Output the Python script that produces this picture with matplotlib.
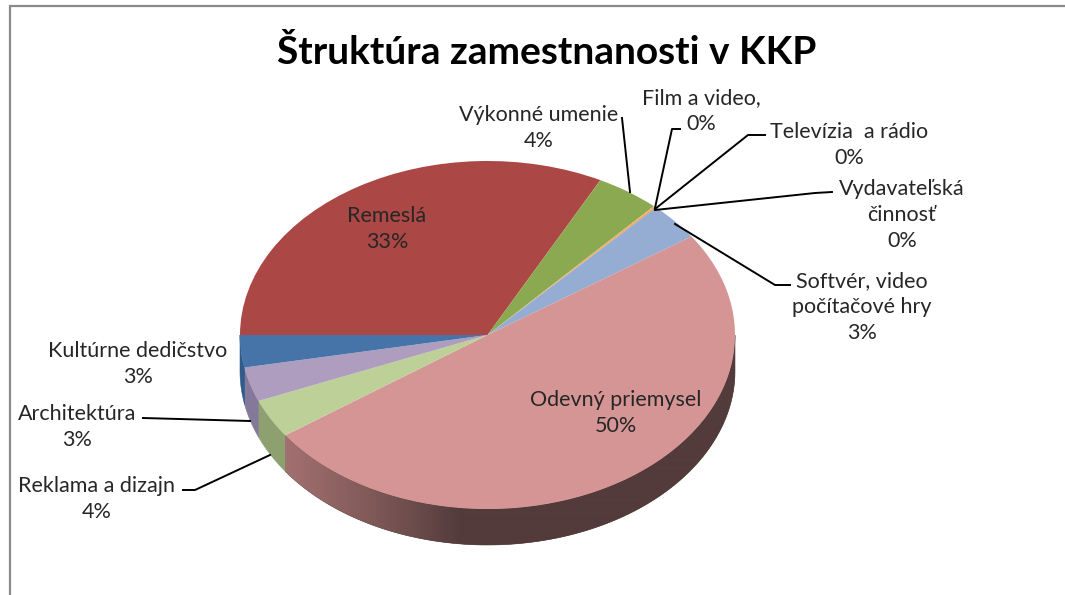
import numpy as np
import matplotlib
matplotlib.use("Agg")
import matplotlib.pyplot as plt

plt.rcParams['font.family'] = ['Lato', 'DejaVu Sans']

# clockwise from 9 o'clock
categories = ['Remeslá', 'Výkonné umenie', 'Film a video,', 'Televízia  a rádio',
              'Vydavateľská\nčinnosť', 'Softvér, video\npočítačové hry', 'Odevný priemysel',
              'Reklama a dizajn', 'Architektúra', 'Kultúrne dedičstvo']
values = [32.6, 4.2, 0.05, 0.05, 0.1, 3.5, 49.9, 3.6, 3.2, 3.0]
pct_labels = ['33%', '4%', '0%', '0%', '0%', '3%', '50%', '4%', '3%', '3%']
colors = ['#AB4744', '#8BA950', '#E8A04C', '#E8A04C', '#E8A04C', '#95ADD3', '#D69595',
          '#BCD098', '#AE9DBE', '#4674A8']
wall_colors = ['#6E2C2A', '#5A6E32', '#A06A30', '#A06A30', '#A06A30', '#5F7396', '#533B3B',
               '#8E9F70', '#84799A', '#2F5A8A']

# label block centres, pixels
label_x = [387, 539, 701, 849, 902, 862, 616, 97, 77, 138]
label_y = [229, 128, 111, 145, 215, 307, 413, 499, 427, 364]

# leader lines, pixels
leaders = {
    'Výkonné umenie': ([622, 630], [118, 192]),
    'Film a video,': ([680, 672, 655], [129, 129, 208]),
    'Televízia': ([765, 748, 655], [135, 135, 209]),
    'Vydavateľská': ([832, 815, 655], [192, 193, 210]),
    'Softvér': ([675, 775, 790], [224, 285, 285]),
    'Architektúra': ([143, 250], [418, 421]),
    'Reklama': ([183, 195, 270], [490, 490, 455]),
}

W, H = 1065, 595
cx, cy, rx, ry, depth = 487.5, 335, 247.5, 174, 36

fig = plt.figure(figsize=(W / 100, H / 100), dpi=100, facecolor='white')

# pie: one data unit is one radius, axes not equal so the disc is squashed
ax = fig.add_axes([0, 0, 1, 1])
wedges, _ = ax.pie(values, colors=colors, startangle=180, counterclock=False,
                   wedgeprops={'linewidth': 0}, radius=1)
xlim = (-cx / rx, (W - cx) / rx)
ylim = ((cy - H) / ry, cy / ry)
d = depth / ry


def wall(t, color):
    xs = np.cos(t)
    ys = np.sin(t)
    return ax.fill(np.r_[xs, xs[::-1]], np.r_[ys, ys[::-1] - d], color=color, lw=0.4, zorder=0)[0]


for w, c, name in zip(wedges, wall_colors, categories):
    # only the part of the rim on the lower half shows
    t = np.radians(np.arange(w.theta1, w.theta2 + 0.25, 0.25))
    t = t[np.sin(t) <= 0]
    if len(t) < 2:
        continue
    poly = wall(t, c)
    if name == 'Odevný priemysel':
        # shaded from left to right, image clipped to the rim
        px = np.arange(270, 740)
        shade = np.interp(px, [285, 345, 400, 460, 735], [0, 0.3, 0.6, 1, 1])[None, :, None]
        img = (1 - shade) * np.array([0xA3, 0x70, 0x70]) + shade * np.array([0x53, 0x3B, 0x3B])
        im = ax.imshow(img / 255, aspect='auto', zorder=0.5, interpolation='bilinear',
                       extent=((270 - cx) / rx, (740 - cx) / rx, -1.3, 0))
        im.set_clip_path(poly)

for w in wedges:
    w.set_zorder(1)

ax.set_aspect('auto')
ax.set_xlim(xlim)
ax.set_ylim(ylim)

# everything else sits on a pixel-coordinate overlay
ov = fig.add_axes([0, 0, 1, 1], zorder=5)
ov.set_xlim(0, W)
ov.set_ylim(H, 0)
ov.axis('off')
ov.patch.set_alpha(0)

ov.plot([10, 10, W], [H, 6, 6], color='#8A8A8A', lw=1.6, solid_joinstyle='miter')
ov.text(547, 52, 'Štruktúra zamestnanosti v KKP', ha='center', va='center',
        fontsize=28, fontweight='bold', color='black')

for xs, ys in leaders.values():
    ov.plot(xs, ys, color='black', lw=1.4)

for name, pct, x, y in zip(categories, pct_labels, label_x, label_y):
    ov.text(x, y, name + '\n' + pct, ha='center', va='center', multialignment='center',
            fontsize=15.5, color='#262626', linespacing=1.4)

fig.savefig('out.png', dpi=100)
